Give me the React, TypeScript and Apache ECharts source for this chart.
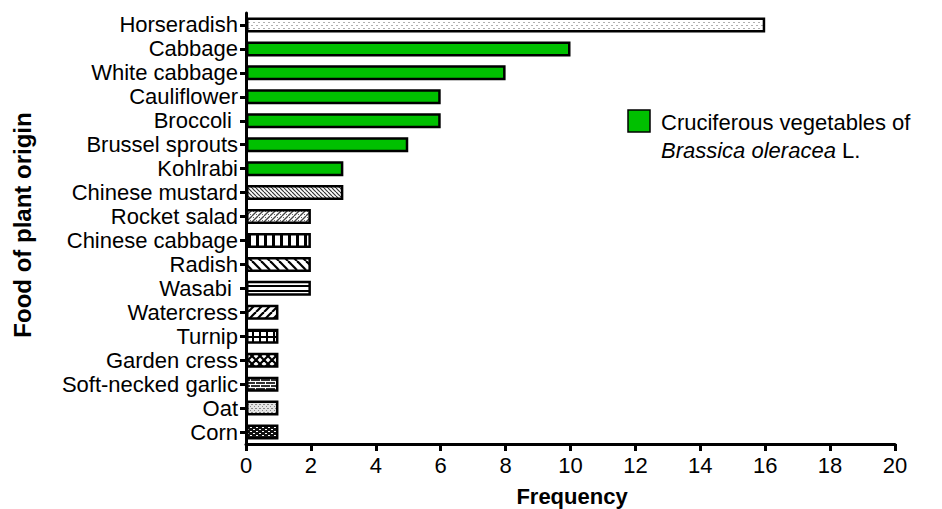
import React, { useEffect, useRef } from "react";
import * as echarts from "echarts";

const categories = [
  "Horseradish", "Cabbage", "White cabbage", "Cauliflower", "Broccoli ",
  "Brussel sprouts", "Kohlrabi", "Chinese mustard", "Rocket salad",
  "Chinese cabbage", "Radish", "Wasabi ", "Watercress", "Turnip",
  "Garden cress", "Soft-necked garlic", "Oat", "Corn",
];
const frequency = [16, 10, 8, 6, 6, 5, 3, 3, 2, 2, 2, 2, 1, 1, 1, 1, 1, 1];
const fills = [
  "dots", "green", "green", "green", "green", "green", "green", "mustard",
  "rocket", "vertical", "backslash", "horizontal", "slash", "grid",
  "diamond", "brick", "stipple", "corn",
];
const xTicks = [0, 2, 4, 6, 8, 10, 12, 14, 16, 18, 20];
const legendLine1 = "Cruciferous vegetables of";
const legendItalic = "Brassica oleracea";
const legendRest = " L.";

const GREEN = "#00c000";

function tile(w: number, h: number, draw: (c: CanvasRenderingContext2D) => void) {
  const cv = document.createElement("canvas");
  cv.width = w;
  cv.height = h;
  const ctx = cv.getContext("2d")!;
  ctx.fillStyle = "#ffffff";
  ctx.fillRect(0, 0, w, h);
  draw(ctx);
  return cv;
}

function diag(ctx: CanvasRenderingContext2D, s: number, dir: 1 | -1, lw: number, col: string) {
  ctx.strokeStyle = col;
  ctx.lineWidth = lw;
  for (const o of [-s, 0, s]) {
    ctx.beginPath();
    if (dir === 1) {
      ctx.moveTo(o, s);
      ctx.lineTo(o + s, 0);
    } else {
      ctx.moveTo(o, 0);
      ctx.lineTo(o + s, s);
    }
    ctx.stroke();
  }
}

function makePattern(kind: string): any {
  if (kind === "green") return GREEN;
  let cv: HTMLCanvasElement;
  switch (kind) {
    case "dots":
      cv = tile(5, 6, (c) => {
        c.fillStyle = "#b0b0b0";
        c.fillRect(1, 1, 2, 1);
        c.fillRect(3, 4, 2, 1);
      });
      break;
    case "mustard":
      cv = tile(4, 4, (c) => diag(c, 4, -1, 1.2, "#333"));
      break;
    case "rocket":
      cv = tile(6, 6, (c) => {
        diag(c, 6, 1, 1.3, "#444");
        c.fillStyle = "#666";
        c.fillRect(1, 1, 1, 1);
        c.fillRect(4, 4, 1, 1);
      });
      break;
    case "vertical":
      cv = tile(8, 2, (c) => {
        c.fillStyle = "#000";
        c.fillRect(0, 0, 3, 2);
      });
      break;
    case "backslash":
      cv = tile(9, 9, (c) => diag(c, 9, -1, 2.2, "#000"));
      break;
    case "horizontal":
      cv = tile(2, 5, (c) => {
        c.fillStyle = "#000";
        c.fillRect(0, 0, 2, 2);
      });
      break;
    case "slash":
      cv = tile(8, 8, (c) => diag(c, 8, 1, 2.2, "#000"));
      break;
    case "grid":
      cv = tile(7, 6, (c) => {
        c.fillStyle = "#000";
        c.fillRect(0, 0, 7, 2);
        c.fillRect(0, 0, 2, 6);
      });
      break;
    case "diamond":
      cv = tile(8, 8, (c) => {
        diag(c, 8, 1, 2.2, "#000");
        diag(c, 8, -1, 2.2, "#000");
      });
      break;
    case "brick":
      cv = tile(10, 6, (c) => {
        c.fillStyle = "#333";
        c.fillRect(0, 0, 10, 6);
        c.fillStyle = "#fff";
        c.fillRect(0, 0, 10, 1);
        c.fillRect(0, 3, 10, 1);
        c.fillRect(0, 0, 1, 3);
        c.fillRect(5, 3, 1, 3);
      });
      break;
    case "stipple":
      cv = tile(4, 4, (c) => {
        c.fillStyle = "#e4e4e4";
        c.fillRect(0, 0, 4, 4);
        c.fillStyle = "#888";
        c.fillRect(0, 0, 1, 1);
        c.fillRect(2, 2, 1, 1);
        c.fillRect(3, 0, 1, 1);
      });
      break;
    case "corn":
    default:
      cv = tile(6, 4, (c) => {
        c.fillStyle = "#111";
        c.fillRect(0, 0, 6, 4);
        c.fillStyle = "#fff";
        c.fillRect(1, 1, 2, 1);
        c.fillRect(4, 3, 2, 1);
      });
      break;
  }
  return { image: cv, repeat: "repeat" };
}

export default function App() {
  const ref = useRef<HTMLDivElement>(null);
  useEffect(() => {
    if (!ref.current) return;
    const chart = echarts.init(ref.current, undefined, { renderer: "svg" });
    const font = "'Liberation Sans', Arial, Helvetica, sans-serif";
    const data = frequency.map((v, i) => ({
      value: v,
      itemStyle: {
        color: makePattern(fills[i]),
        borderColor: "#000",
        borderWidth: 2.5,
      },
    }));
    chart.setOption({
      animation: false,
      backgroundColor: "#ffffff",
      grid: { left: 246, right: 47, top: 13, bottom: 65, containLabel: false },
      xAxis: {
        type: "value",
        min: xTicks[0],
        max: xTicks[xTicks.length - 1],
        interval: 2,
        axisLine: { show: true, lineStyle: { color: "#000", width: 3 } },
        axisTick: { show: true, length: 7, lineStyle: { color: "#000", width: 3 } },
        splitLine: { show: false },
        axisLabel: {
          color: "#000",
          fontSize: 22,
          fontFamily: font,
          margin: 10,
        },
      },
      yAxis: {
        type: "category",
        inverse: true,
        data: categories,
        axisLine: { show: true, lineStyle: { color: "#000", width: 3 } },
        axisTick: { show: true, alignWithLabel: true, interval: 0, length: 6, lineStyle: { color: "#000", width: 3 } },
        axisLabel: { color: "#000", fontSize: 22, fontFamily: font, margin: 8, interval: 0 },
      },
      series: [
        {
          type: "bar",
          data,
          barWidth: 15,
        },
      ],
      graphic: [
        {
          type: "text",
          x: 22,
          y: 225,
          rotation: Math.PI / 2,
          style: {
            text: "Food of plant origin",
            font: "bold 24px " + font,
            fill: "#000",
            align: "center",
            verticalAlign: "middle",
          },
        },
        {
          type: "text",
          x: 572,
          y: 496,
          style: {
            text: "Frequency",
            font: "bold 22px " + font,
            fill: "#000",
            align: "center",
            verticalAlign: "middle",
          },
        },
        {
          type: "rect",
          shape: { x: 628, y: 110, width: 22, height: 22 },
          style: { fill: GREEN, stroke: "#000", lineWidth: 1.5 },
        },
        {
          type: "text",
          x: 661,
          y: 122,
          style: {
            text: legendLine1,
            font: "22px " + font,
            fill: "#000",
            verticalAlign: "middle",
          },
        },
        {
          type: "text",
          x: 661,
          y: 150,
          style: {
            text: "{i|" + legendItalic + "}" + legendRest,
            font: "22px " + font,
            fill: "#000",
            verticalAlign: "middle",
            rich: {
              i: { fontStyle: "italic", fontSize: 22, fontFamily: font, fill: "#000" },
            },
          },
        },
      ],
    });
    return () => chart.dispose();
  }, []);
  return <div ref={ref} style={{ width: 942, height: 509, position: "absolute", left: 0, top: 0 }} />;
}
